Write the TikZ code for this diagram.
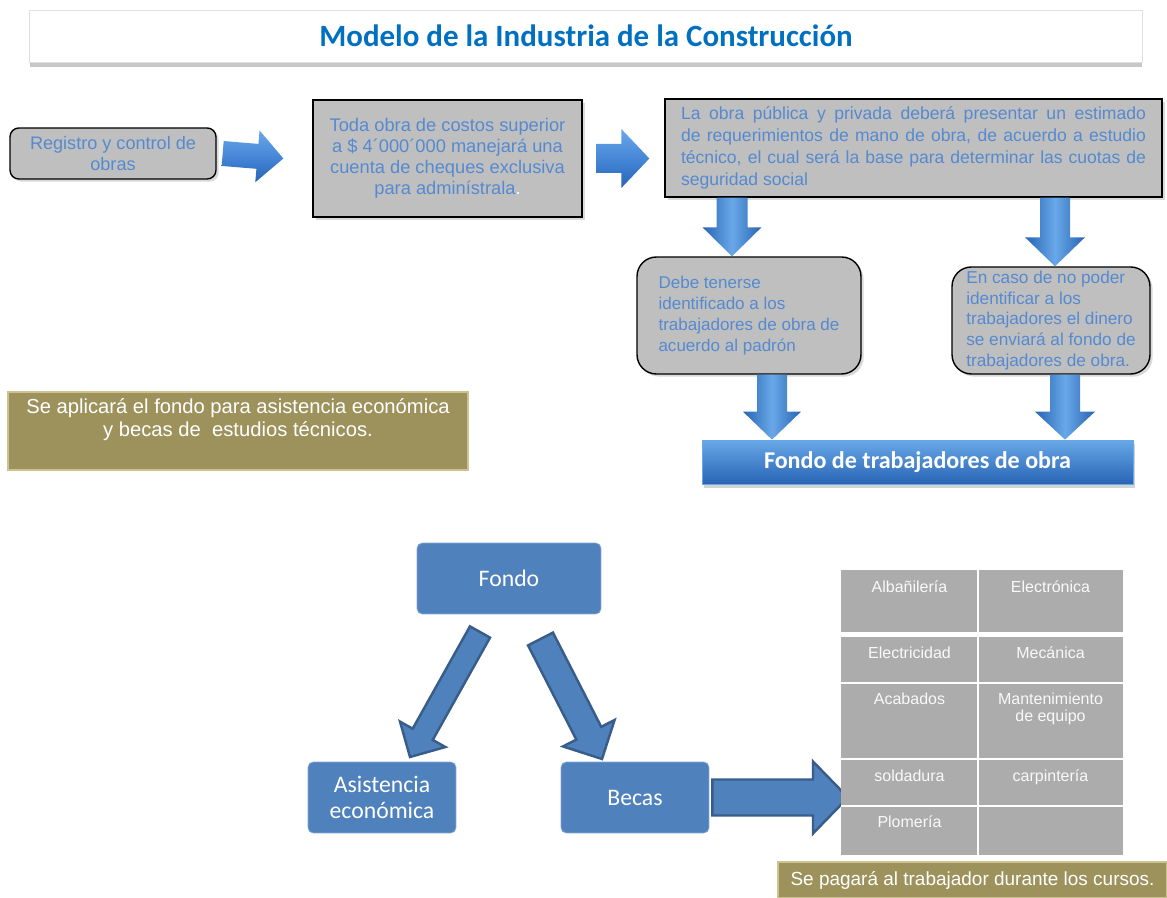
\documentclass[tikz,border=0pt]{standalone}
\usepackage{fontspec}
\setmainfont{Liberation Sans}
\newfontfamily\calibri{Carlito}
\usepackage{xcolor}
\usepackage{tikz}
\usetikzlibrary{calc,shadows}

\definecolor{boxgray}{RGB}{191,191,191}
\definecolor{txtblue}{RGB}{85,138,208}
\definecolor{titleblue}{RGB}{0,112,192}
\definecolor{arrowlight}{RGB}{105,168,232}
\definecolor{arrowmid}{RGB}{70,135,215}
\definecolor{arrowdark}{RGB}{40,100,180}
\definecolor{oliveface}{RGB}{158,146,92}
\definecolor{oliveedge}{RGB}{205,195,145}
\definecolor{fondoblue}{RGB}{79,129,189}
\definecolor{fondoedge}{RGB}{56,93,138}
\definecolor{tablegray}{RGB}{172,172,172}

% block arrow: [style]{from}{to}{shaft half width}{head half width}{head length}
\newcommand{\blockarrow}[6][]{%
  \path ($(#3)!#6!(#2)$) coordinate (ba);
  \path[#1] ($(#2)!#4!-90:(#3)$) -- ($(ba)!#4!-90:(#3)$) -- ($(ba)!#5!-90:(#3)$) -- (#3)
    -- ($(ba)!#5!90:(#3)$) -- ($(ba)!#4!90:(#3)$) -- ($(#2)!#4!90:(#3)$) -- cycle;
}

\begin{document}
\begin{tikzpicture}[x=0.02cm, y=-0.02cm,
    titlebox/.style={draw=gray!25, fill=white, text=titleblue,
      font=\calibri\bfseries\fontsize{17.6}{20}\selectfont,
      drop shadow={shadow xshift=0pt, shadow yshift=-3pt, opacity=0.55, fill=gray!80}},
    graybox/.style={draw=black, line width=0.8pt, fill=boxgray, text=txtblue,
      font=\fontsize{10}{12}\selectfont, inner sep=2pt,
      drop shadow={shadow xshift=1.5pt, shadow yshift=-1.5pt, opacity=0.3}},
    roundbox/.style={graybox, rounded corners=11pt},
    downarrow/.style={left color=arrowdark, right color=arrowdark, middle color=arrowlight},
    rightarrow/.style={top color=arrowlight, bottom color=arrowdark, middle color=arrowmid},
    bluebar/.style={top color=arrowlight, bottom color=arrowdark, draw=arrowlight,
      text=white, font=\calibri\bfseries\fontsize{13.7}{16}\selectfont,
      drop shadow={shadow xshift=1pt, shadow yshift=-2pt, opacity=0.35}},
    olivebox/.style={fill=oliveface, draw=oliveedge, line width=1pt, text=white,
      font=\fontsize{11.5}{13}\selectfont},
    fondobox/.style={fill=fondoblue, draw=fondoblue!70!white, rounded corners=3pt,
      text=white, font=\calibri\fontsize{13.5}{14.5}\selectfont},
    outlinearrow/.style={fill=fondoblue, draw=fondoedge, line width=1.4pt},
    cell/.style={text=white!95!gray, font=\fontsize{9.1}{10}\selectfont,
      anchor=north, inner sep=0pt, align=center}]
  \useasboundingbox (0,0) rectangle (1167,898);

  % Title
  \node[titlebox, minimum width=22.26cm, minimum height=1.04cm] (title) at (586,36)
    {Modelo de la Industria de la Construcción};

  % Top row
  \node[graybox, rounded corners=5pt, minimum width=4.12cm, minimum height=1.02cm,
    align=center, font=\fontsize{10.3}{12}\selectfont] (registro) at (113,153.5)
    {Registro y control de\\obras};
  \node[graybox, minimum width=5.38cm, minimum height=2.34cm, align=center,
    font=\fontsize{10.4}{12}\selectfont] (cuenta) at (447.5,158.5)
    {Toda obra de costos superior\\a \$ 4´000´000 manejará una\\
    cuenta de cheques exclusiva\\para adminístrala{\color{white}.}};
  \node[graybox, minimum width=9.94cm, minimum height=1.96cm, text width=9.3cm,
    align=justify, font=\fontsize{10}{12.5}\selectfont] (estimado) at (913.5,148)
    {La obra pública y privada deberá presentar un estimado\linebreak
     de requerimientos de mano de obra, de acuerdo a estudio\linebreak
     técnico, el cual será la base para determinar las cuotas de\linebreak
     seguridad social};

  \coordinate (a1s) at ([xshift=0.12cm]registro.east);
  \coordinate (a1e) at ([xshift=-0.58cm]cuenta.west);
  \blockarrow[rightarrow]{a1s}{a1e}{0.25cm}{0.52cm}{0.52cm}
  \coordinate (a2s) at ([xshift=0.28cm]cuenta.east);
  \coordinate (a2e) at ([xshift=-0.3cm]estimado.west |- cuenta.east);
  \blockarrow[rightarrow]{a2s}{a2e}{0.29cm}{0.59cm}{0.56cm}

  % Middle row
  \node[roundbox, minimum width=4.48cm, minimum height=2.34cm, align=left,
    font=\fontsize{9.7}{11.8}\selectfont] (padron) at (749,315.5)
    {Debe tenerse\\identificado a los\\trabajadores de obra de\\acuerdo al padrón};
  \node[roundbox, minimum width=3.96cm, minimum height=2.14cm, align=left, inner sep=1pt,
    font=\fontsize{9.8}{11.8}\selectfont] (sinpadron) at (1051,320.5)
    {En caso de no poder\\identificar a los\\trabajadores el dinero\\se enviará al fondo de\\trabajadores de obra.};

  \coordinate (d1s) at ([xshift=-0.34cm]padron.north |- estimado.south);
  \coordinate (d1e) at ([xshift=-0.34cm]padron.north);
  \blockarrow[downarrow]{d1s}{d1e}{0.31cm}{0.59cm}{0.58cm}
  \coordinate (d2s) at ([xshift=0.08cm]sinpadron.north |- estimado.south);
  \coordinate (d2e) at ([xshift=0.08cm]sinpadron.north);
  \blockarrow[downarrow]{d2s}{d2e}{0.3cm}{0.6cm}{0.58cm}

  % Fund bar
  \node[bluebar, minimum width=8.62cm, minimum height=0.88cm] (fondotrab) at (917.5,462)
    {Fondo de trabajadores de obra};
  \coordinate (d3s) at ([xshift=0.46cm]padron.south);
  \coordinate (d3e) at (d3s |- fondotrab.north);
  \blockarrow[downarrow]{d3s}{d3e}{0.3cm}{0.58cm}{0.56cm}
  \coordinate (d4s) at ([xshift=0.28cm]sinpadron.south);
  \coordinate (d4e) at (d4s |- fondotrab.north);
  \blockarrow[downarrow]{d4s}{d4e}{0.3cm}{0.6cm}{0.56cm}

  % Olive note
  \node[olivebox, minimum width=9.2cm, minimum height=1.56cm] (aplica) at (238,431) {};
  \node[text=white, font=\fontsize{11.5}{13}\selectfont, align=center] (aplicatxt)
    at (238,420) {Se aplicará el fondo para asistencia económica\\y becas de\ \ estudios técnicos.};

  % Bottom tree
  \node[fondobox, minimum width=3.68cm, minimum height=1.42cm] (fondo) at (509,578.5) {Fondo};
  \node[fondobox, minimum width=2.96cm, minimum height=1.42cm, align=center]
    (asistencia) at (382,797.5) {Asistencia\\económica};
  \node[fondobox, minimum width=2.96cm, minimum height=1.42cm] (becas) at (635,797.5) {Becas};

  \coordinate (asistail) at (480,632);
  \coordinate (asistip) at (410,757);
  \blockarrow[outlinearrow]{asistail}{asistip}{0.23cm}{0.52cm}{0.52cm}
  \coordinate (becatail) at (540.5,639);
  \coordinate (becatip) at (602,759);
  \blockarrow[outlinearrow]{becatail}{becatip}{0.28cm}{0.58cm}{0.58cm}
  \coordinate (cursotail) at ([xshift=0.06cm]becas.east);
  \coordinate (cursotip) at (848,797.5);
  \blockarrow[outlinearrow]{cursotail}{cursotip}{0.36cm}{0.72cm}{0.7cm}

  % Course table
  \fill[tablegray] (841,570) rectangle (1123,632);
  \fill[tablegray] (841,637) rectangle (1123,855);
  \draw[white, line width=1pt] (978,570) -- (978,855);
  \foreach \y in {683,759,806}
    \draw[white, line width=1pt] (841,\y) -- (1123,\y);
  \foreach \txt/\x/\y [count=\i] in {Albañilería/909.5/578, Electrónica/1050.5/578,
      Electricidad/909.5/644, Mecánica/1050.5/644, Acabados/909.5/690,
      {Mantenimiento\\de equipo}/1050.5/690, soldadura/909.5/767,
      carpintería/1050.5/767, Plomería/909.5/813}
    \node[cell] (curso\i) at (\x,\y) {\vphantom{Ál}\txt};

  % Payment note
  \node[olivebox, minimum width=7.78cm, minimum height=0.72cm, font=\fontsize{10.8}{12}\selectfont]
    (pago) at (972.5,880) {Se pagará al trabajador durante los cursos.};
\end{tikzpicture}
\end{document}
